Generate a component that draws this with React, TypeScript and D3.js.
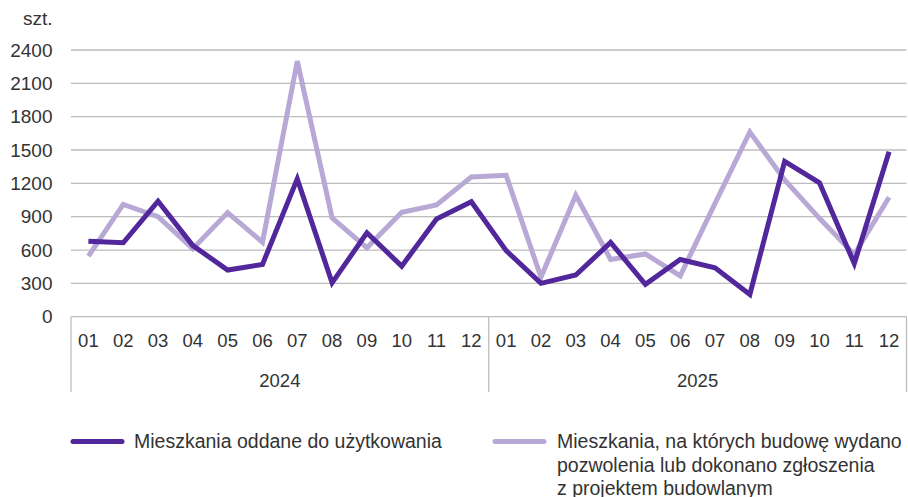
import React from "react";
import * as d3 from "d3";

const months = ["01","02","03","04","05","06","07","08","09","10","11","12"];
const years = ["2024", "2025"];
const categories = years.flatMap((y) => months.map((m) => `${y}-${m}`));
const completed = [680, 665, 1040, 640, 420, 470, 1240, 305, 755, 455, 880, 1035, 595, 300, 375, 668, 292, 515, 440, 200, 1398, 1205, 478, 1485];
const permits = [545, 1010, 900, 612, 937, 670, 2300, 890, 620, 940, 1005, 1258, 1272, 355, 1093, 515, 565, 368, 1020, 1662, 1230, 885, 560, 1075];
const yTicks = [0, 300, 600, 900, 1200, 1500, 1800, 2100, 2400];
const seriesNames = [
  ["Mieszkania oddane do użytkowania"],
  ["Mieszkania, na których budowę wydano", "pozwolenia lub dokonano zgłoszenia", "z projektem budowlanym"],
];

const W = 908, H = 497;
const left = 71, right = 906.5, top = 50, bottom = 316.7;
const FONT = "'Liberation Sans', Arial, sans-serif";
const TEXT = "#333333";
const GRID = "#bdbdbd";
const DARK = "#51279b";
const LIGHT = "#b8a8d6";

export default function App() {
  const x = d3.scaleBand<string>().domain(categories).range([left, right]);
  const y = d3.scaleLinear().domain([0, 2400]).range([bottom, top]);
  const cx = (i: number) => (x(categories[i]) as number) + x.bandwidth() / 2;
  const line = d3.line<number>().x((_, i) => cx(i)).y((d) => y(d));
  const yearX = years.map((_, k) => x(categories[k * 12]) as number);
  const sepX = [...yearX, right];

  return (
    <svg width={W} height={H} style={{ position: "absolute", left: 0, top: 0 }} fontFamily={FONT}>
      <rect width={W} height={H} fill="#fff" />
      {yTicks.map((t) => (
        <g key={t}>
          <line x1={left} x2={right} y1={y(t)} y2={y(t)} stroke={GRID} strokeWidth={1.3} />
          <text x={52.5} y={y(t)} dy="0.35em" textAnchor="end" fontSize={19} fill={TEXT}>{t}</text>
        </g>
      ))}
      <text x={52.5} y={18} dy="0.35em" textAnchor="end" fontSize={19} fill={TEXT}>szt.</text>
      {sepX.map((sx, i) => (
        <line key={i} x1={sx} x2={sx} y1={bottom} y2={392} stroke={GRID} strokeWidth={1.3} />
      ))}
      {categories.map((c, i) => (
        <text key={c} x={cx(i)} y={341} dy="0.35em" textAnchor="middle" fontSize={18.5} fill={TEXT}>{months[i % 12]}</text>
      ))}
      {years.map((yr, k) => (
        <text key={yr} x={(sepX[k] + sepX[k + 1]) / 2} y={381} dy="0.35em" textAnchor="middle" fontSize={18.5} fill={TEXT}>{yr}</text>
      ))}
      <path d={line(permits) as string} fill="none" stroke={LIGHT} strokeWidth={5} />
      <path d={line(completed) as string} fill="none" stroke={DARK} strokeWidth={5} />
      {/* legend */}
      <line x1={73} x2={122} y1={441.5} y2={441.5} stroke={DARK} strokeWidth={5} strokeLinecap="round" />
      <text x={134} y={448} fontSize={19.5} fill={TEXT}>{seriesNames[0][0]}</text>
      <line x1={495} x2={544} y1={441.5} y2={441.5} stroke={LIGHT} strokeWidth={5} strokeLinecap="round" />
      {seriesNames[1].map((s, i) => (
        <text key={i} x={557} y={448 + i * 23.5} fontSize={19.5} fill={TEXT}>{s}</text>
      ))}
    </svg>
  );
}
